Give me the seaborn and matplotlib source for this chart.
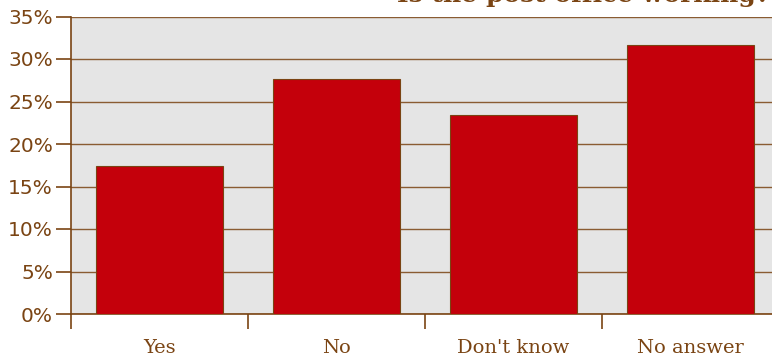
import matplotlib
matplotlib.use("Agg")
import matplotlib.pyplot as plt
from matplotlib.ticker import FuncFormatter, FixedLocator
import seaborn as sns
import pandas as pd

categories = ["Yes", "No", "Don't know", "No answer"]
shares = [17.4, 27.6, 23.4, 31.6]
y_ticks = [0, 5, 10, 15, 20, 25, 30, 35]
title = "Is the post office working?"

brown = "#7a4413"
bar_red = "#c4000b"

sns.set_theme(style="white")
plt.rcParams["font.family"] = ["DejaVu Sans"]

df = pd.DataFrame({"answer": categories, "share": shares})

W, H = 772, 356
fig = plt.figure(figsize=(W / 100, H / 100), dpi=100)
left, right, top, bottom = 71, 779, 16.5, 314
ax = fig.add_axes([left / W, 1 - bottom / H, (right - left) / W, (bottom - top) / H])
ax.set_facecolor("#e5e5e5")

sns.barplot(data=df, x="answer", y="share", color=bar_red, width=0.712,
            edgecolor=brown, linewidth=0.8, saturation=1, ax=ax, zorder=3)

ax.set_xlim(-0.5, len(categories) - 0.5)
ax.set_ylim(0, 35)
ax.set_yticks(y_ticks)
ax.yaxis.set_major_formatter(FuncFormatter(lambda v, p: f"{v:.0f}%"))
ax.grid(axis="y", color=brown, linewidth=1.0, alpha=0.85, zorder=1)
ax.set_axisbelow(True)

# category ticks sit between bars
ax.xaxis.set_major_locator(FixedLocator([i - 0.5 for i in range(len(categories))]))
ax.xaxis.set_minor_locator(FixedLocator(list(range(len(categories)))))
ax.set_xticklabels([], minor=False)
ax.set_xticklabels(categories, minor=True)
ax.tick_params(axis="x", which="major", bottom=True, length=11, width=1.2,
               color=brown, direction="out")
ax.tick_params(axis="x", which="minor", bottom=True, length=0, pad=18,
               labelsize=14, labelcolor=brown)
for lab in ax.get_xticklabels(minor=True):
    lab.set_family("DejaVu Serif")
ax.tick_params(axis="y", left=True, length=11, width=1.2, color=brown,
               labelsize=14.5, labelcolor=brown, pad=2, direction="out")

for side in ["top", "right"]:
    ax.spines[side].set_visible(False)
ax.spines["left"].set_color(brown)
ax.spines["left"].set_linewidth(1.2)
ax.spines["bottom"].set_color(brown)
ax.spines["bottom"].set_linewidth(1.2)

ax.set_xlabel("")
ax.set_ylabel("")

fig.text(770 / W, 1 - 2 / H, title, ha="right", va="baseline",
         fontsize=18, fontweight="bold", family="DejaVu Serif", color=brown)

fig.savefig("out.png", dpi=100)
